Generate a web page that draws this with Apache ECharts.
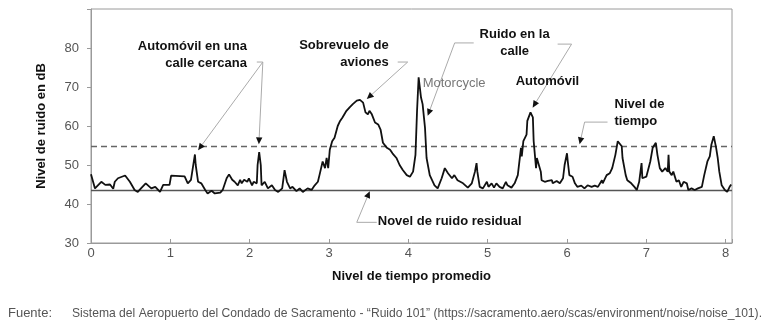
<!DOCTYPE html>
<html><head><meta charset="utf-8">
<script src="https://cdn.jsdelivr.net/npm/echarts@6/dist/echarts.min.js"></script>
<style>html,body{margin:0;padding:0;background:#fff;}#c{width:769px;height:329px;}</style>
</head><body><div id="c"></div>
<script>
// Time (x) and noise level in dB (y)
const times = [0.00,0.05,0.13,0.18,0.24,0.28,0.30,0.34,0.43,0.49,0.55,0.59,0.63,0.69,0.76,0.81,0.87,0.91,0.99,1.01,
1.18,1.22,1.26,1.31,1.32,1.35,1.39,1.44,1.47,1.52,1.56,1.63,1.66,1.71,1.74,1.78,1.81,1.85,1.88,1.90,
1.93,1.97,1.99,2.03,2.05,2.09,2.10,2.12,2.14,2.15,2.19,2.23,2.28,2.32,2.36,2.41,2.44,2.47,2.51,2.54,
2.59,2.63,2.67,2.73,2.78,2.82,2.86,2.88,2.92,2.95,2.97,2.99,3.01,3.04,3.07,3.11,3.14,3.17,3.22,3.26,
3.30,3.35,3.39,3.43,3.46,3.49,3.51,3.54,3.58,3.62,3.65,3.68,3.73,3.77,3.80,3.85,3.89,3.93,3.98,4.02,
4.06,4.09,4.11,4.13,4.16,4.18,4.21,4.23,4.27,4.33,4.37,4.42,4.46,4.50,4.55,4.58,4.62,4.69,4.75,4.80,
4.84,4.86,4.87,4.90,4.94,4.99,5.01,5.05,5.08,5.11,5.15,5.19,5.23,5.25,5.30,5.34,5.38,5.42,5.43,5.45,
5.49,5.50,5.54,5.57,5.58,5.61,5.62,5.64,5.67,5.68,5.72,5.76,5.81,5.82,5.87,5.91,5.95,5.97,6.00,6.01,
6.03,6.07,6.10,6.13,6.18,6.22,6.26,6.31,6.35,6.39,6.44,6.45,6.50,6.54,6.57,6.61,6.64,6.66,6.69,6.70,
6.74,6.76,6.81,6.85,6.88,6.91,6.94,6.95,7.00,7.02,7.05,7.08,7.12,7.14,7.17,7.20,7.24,7.27,7.28,7.29,
7.32,7.34,7.38,7.41,7.44,7.47,7.51,7.53,7.57,7.61,7.65,7.70,7.73,7.77,7.80,7.82,7.85,7.88,7.90,7.92,
7.95,7.99,8.02,8.05,8.07];
const levels = [47.6,44.0,45.7,44.9,45.0,43.9,45.7,46.6,47.3,45.7,43.6,43.1,44.0,45.3,44.0,44.4,43.1,44.9,44.9,47.3,
47.1,45.3,46.2,52.7,50.0,45.7,45.3,43.6,42.7,43.4,42.7,42.9,43.6,46.6,47.6,46.2,45.7,44.8,46.2,45.3,
46.2,45.7,46.6,44.8,45.7,45.3,50.0,53.3,50.0,44.8,45.7,44.0,44.8,43.6,43.1,44.0,48.7,45.7,44.0,44.4,
43.3,44.0,43.1,44.0,43.6,44.8,45.7,47.4,50.9,49.2,51.8,49.2,53.9,56.1,57.0,60.0,61.3,62.2,63.9,64.8,
65.6,66.5,66.7,66.0,63.5,63.0,63.9,63.0,60.9,60.4,59.1,55.7,54.4,53.9,53.0,51.8,50.0,48.7,47.4,47.0,
48.3,52.6,63.9,72.5,67.3,65.6,59.6,51.8,47.4,44.8,44.0,46.6,49.2,47.9,46.6,47.4,46.1,45.3,44.2,45.3,
48.3,50.5,48.3,44.4,44.0,45.7,44.4,45.3,44.2,45.3,44.4,44.0,45.7,44.8,44.2,45.3,47.4,54.4,52.2,56.1,
57.8,61.3,63.5,62.2,56.1,49.2,51.8,52.2,48.3,46.1,45.7,45.9,46.1,45.3,45.9,45.3,46.6,50.0,53.0,50.9,
47.4,47.0,45.3,44.4,44.7,44.0,44.8,44.4,44.7,44.4,46.1,45.3,47.4,47.9,49.2,52.6,56.1,56.5,54.8,51.8,
47.4,46.1,45.3,44.4,43.6,45.7,50.5,46.6,47.0,47.0,50.9,54.4,55.7,52.6,49.2,48.3,49.2,48.3,52.6,48.3,
47.4,48.3,45.7,46.1,44.4,45.7,45.3,43.6,44.0,43.6,44.0,44.4,47.4,50.9,52.2,55.2,57.4,54.4,51.8,48.3,
44.8,43.6,43.1,44.4,45.0];
const xTickLabels = [0,1,2,3,4,5,6,7,8];
const yTickLabels = [30,40,50,60,70,80];
const residualLevel = 43.6;   // solid line
const averageLevel = 54.8;    // dashed line

// Annotation texts and arrows (in data coordinates)
const noteTexts = ['Automóvil en una\ncalle cercana','Sobrevuelo de\naviones','Ruido en la\ncalle','Motorcycle','Automóvil','Nivel de\ntiempo','Novel de ruido residual'];
const noteX = [1.965,3.753,5.340,4.181,5.353,6.599,3.615];
const noteY = [78.3,78.4,81.2,70.9,71.4,63.4,35.6];
const noteAlign = ['right','right','center','left','left','left','left'];
const arrowPaths = [
  [[2.09,76.4],[2.166,76.4],[1.35,53.8]],
  [[2.166,76.4],[2.116,55.3]],
  [[3.866,76.4],[3.992,76.4],[3.476,66.9]],
  [[4.824,81.3],[4.584,81.3],[4.244,62.6]],
  [[5.882,81.0],[6.058,81.0],[5.567,64.7]],
  [[6.511,61.0],[6.222,61.0],[6.159,55.3]],
  [[3.602,35.3],[3.350,35.3],[3.514,43.3]]
];
const sourceLabel = 'Fuente:';
const sourceText = 'Sistema del Aeropuerto del Condado de Sacramento - \u201cRuido 101\u201d (https://sacramento.aero/scas/environment/noise/noise_101).';

const chart = echarts.init(document.getElementById('c'), null, {renderer:'canvas'});
const sans = "'Liberation Sans', Arial, sans-serif";
const seriesData = times.map((t,i)=>[t, levels[i]]);

chart.setOption({
  animation:false,
  grid:{left:91,right:37,top:9,bottom:86,show:true,borderColor:'#9a9a9a',borderWidth:1,containLabel:false},
  xAxis:{type:'value',min:0,max:8.08,interval:1,
    name:'Nivel de tiempo promedio',nameLocation:'middle',nameGap:27,
    nameTextStyle:{fontFamily:sans,fontWeight:'bold',fontSize:13,color:'#111'},
    axisLine:{show:true,lineStyle:{color:'#9a9a9a'}},
    axisTick:{show:true,inside:true,length:4,lineStyle:{color:'#9a9a9a'}},
    axisLabel:{margin:4,fontFamily:sans,fontSize:13,color:'#555',
      formatter:v=>xTickLabels.includes(v)?String(v):''},
    splitLine:{show:false}},
  yAxis:{type:'value',min:30,max:90,interval:10,
    name:'Nivel de ruido en dB',nameLocation:'middle',nameGap:43,nameRotate:90,
    nameTextStyle:{fontFamily:sans,fontWeight:'bold',fontSize:13,color:'#111'},
    axisLine:{show:true,lineStyle:{color:'#9a9a9a'}},
    axisTick:{show:true,inside:false,length:4,lineStyle:{color:'#9a9a9a'}},
    axisLabel:{margin:12,fontFamily:sans,fontSize:13,color:'#555',
      formatter:v=>yTickLabels.includes(v)?String(v):''},
    splitLine:{show:false}},
  series:[{type:'line',data:seriesData,showSymbol:false,smooth:false,
    lineStyle:{color:'#111',width:1.8},z:5,
    markLine:{silent:true,symbol:'none',label:{show:false},animation:false,
      data:[
        {yAxis:residualLevel,lineStyle:{color:'#555',width:1.3,type:'solid'}},
        {yAxis:averageLevel,lineStyle:{color:'#666',width:1.4,type:[6,4]}}
      ]}}]
});

function px(p){return chart.convertToPixel({gridIndex:0},p);}
const measureCtx = document.createElement('canvas').getContext('2d');
function textWidth(t, font){measureCtx.font = font; return measureCtx.measureText(t).width;}
const g = [];
arrowPaths.forEach(path=>{
  const pts = path.map(px);
  const tip = pts[pts.length-1], prev = pts[pts.length-2];
  let dx = tip[0]-prev[0], dy = tip[1]-prev[1];
  const len = Math.hypot(dx,dy); dx/=len; dy/=len;
  const L=7, W=3.2;
  const base=[tip[0]-dx*L, tip[1]-dy*L];
  const line = pts.slice(0,-1).concat([base]);
  g.push({type:'polyline',shape:{points:line},style:{stroke:'#aaa',lineWidth:1,fill:null},z:10});
  g.push({type:'polygon',shape:{points:[tip,[base[0]-dy*W,base[1]+dx*W],[base[0]+dy*W,base[1]-dx*W]]},style:{fill:'#111'},z:11});
});
noteTexts.forEach((t,i)=>{
  const p = px([noteX[i],noteY[i]]);
  const isMoto = t==='Motorcycle';
  g.push({type:'text',z:12,style:{text:t,x:p[0],y:p[1],align:noteAlign[i],verticalAlign:'middle',
    font:(isMoto?'normal 13px ':'bold 13px ')+sans,fill:isMoto?'#777':'#111',lineHeight:17}});
});
// Footer, compressed horizontally to mimic the condensed face of the original
const footFont = '13px '+sans;
const s1 = 44/textWidth(sourceLabel, footFont);
const s2 = 690/textWidth(sourceText, footFont);
g.push({type:'text',x:8,y:313,scaleX:s1,style:{text:sourceLabel,x:0,y:0,verticalAlign:'middle',font:footFont,fill:'#555'}});
g.push({type:'text',x:72,y:313,scaleX:s2,style:{text:sourceText,x:0,y:0,verticalAlign:'middle',font:footFont,fill:'#555'}});
chart.setOption({graphic:g});
</script></body></html>
